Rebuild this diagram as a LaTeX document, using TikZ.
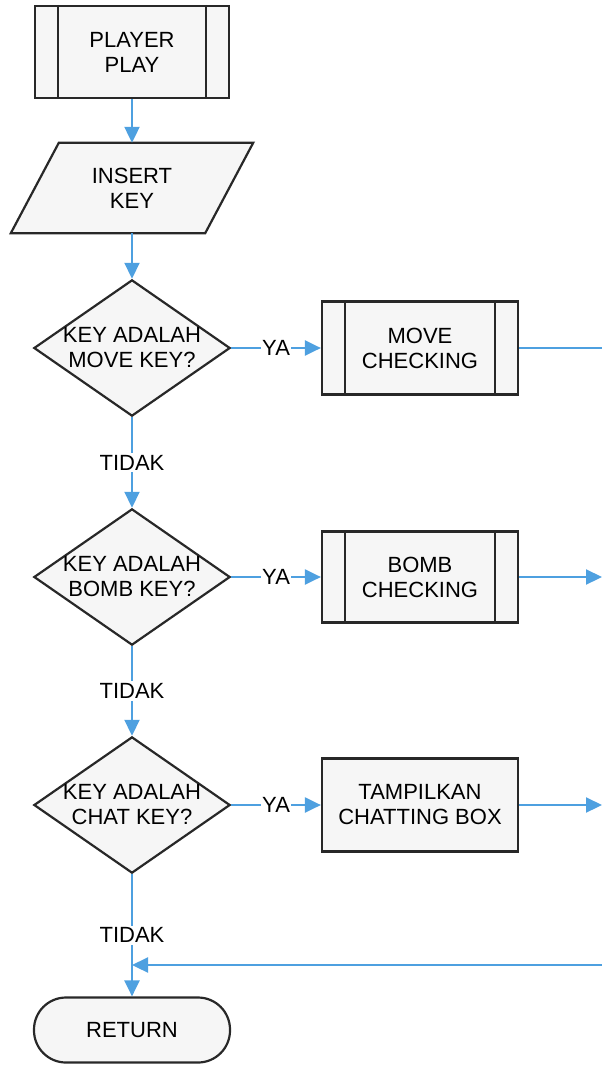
\documentclass[tikz,border=0pt]{standalone}
\usepackage{fontspec}
\setmainfont{Liberation Sans}
\usetikzlibrary{shapes.geometric,arrows.meta}

\definecolor{flowblue}{RGB}{78,160,224}
\definecolor{edgegray}{RGB}{40,40,40}
\definecolor{boxfill}{RGB}{246,246,246}

\tikzset{
  txt/.style={align=center, font=\fontsize{22}{25}\selectfont},
  base/.style={txt, draw=edgegray, line width=2.2pt, fill=boxfill, inner sep=0pt},
  procbox/.style={base, rectangle, minimum width=196pt, minimum height=93pt},
  decision/.style={base, diamond, aspect=1.44, minimum width=195pt, minimum height=135pt},
  terminal/.style={base, rectangle, rounded corners=32pt, minimum width=196pt, minimum height=65pt},
  flow/.style={draw=flowblue, line width=2.2pt, -{Triangle[length=16pt,width=15pt]}},
  plainflow/.style={draw=flowblue, line width=2.2pt},
  lbl/.style={txt, fill=white, inner sep=2pt}
}

\begin{document}
\begin{tikzpicture}[x=1pt,y=-1pt]
  \useasboundingbox (0,0) rectangle (602,1066);

  % predefined process: PLAYER PLAY
  \node[procbox, minimum width=194pt, minimum height=92pt] (pp) at (132,52) {PLAYER\\PLAY};
  \draw[edgegray, line width=2.2pt] ([xshift=24pt]pp.north west) -- ([xshift=24pt]pp.south west);
  \draw[edgegray, line width=2.2pt] ([xshift=-24pt]pp.north east) -- ([xshift=-24pt]pp.south east);

  % input parallelogram: INSERT KEY
  \node[txt, minimum width=194pt, minimum height=90pt, inner sep=0pt] (ik) at (132,188) {};
  \draw[edgegray, line width=2.2pt, fill=boxfill, line join=miter]
    ([xshift=24pt]ik.north west) -- ([xshift=24pt]ik.north east)
    -- ([xshift=-24pt]ik.south east) -- ([xshift=-24pt]ik.south west) -- cycle;
  \node[txt] (iktext) at (ik.center) {INSERT\\KEY};

  % decisions
  \node[decision] (d1) at (132,348) {KEY ADALAH\\MOVE KEY?};
  \node[decision] (d2) at (132,577) {KEY ADALAH\\BOMB KEY?};
  \node[decision] (d3) at (132,805) {KEY ADALAH\\CHAT KEY?};

  % process boxes
  \node[procbox] (mc) at (420,348) {MOVE\\CHECKING};
  \draw[edgegray, line width=2.2pt] ([xshift=24pt]mc.north west) -- ([xshift=24pt]mc.south west);
  \draw[edgegray, line width=2.2pt] ([xshift=-24pt]mc.north east) -- ([xshift=-24pt]mc.south east);

  \node[procbox, minimum height=91pt] (bc) at (420,577) {BOMB\\CHECKING};
  \draw[edgegray, line width=2.2pt] ([xshift=24pt]bc.north west) -- ([xshift=24pt]bc.south west);
  \draw[edgegray, line width=2.2pt] ([xshift=-24pt]bc.north east) -- ([xshift=-24pt]bc.south east);

  \node[procbox] (tc) at (420,805) {TAMPILKAN\\CHATTING BOX};

  % terminal
  \node[terminal] (ret) at (132,1030) {RETURN};

  % off-page ends and junction
  \coordinate (e1) at (602,348);
  \coordinate (e2) at (602,577);
  \coordinate (e3) at (602,805);
  \coordinate (e4) at (602,965);
  \coordinate (j) at (132,965);

  % main column
  \draw[flow] (pp.south) -- (ik.north);
  \draw[flow] (ik.south) -- (d1.north);
  \draw[flow] (d1.south) -- node[lbl] {TIDAK} (d2.north);
  \draw[flow] (d2.south) -- node[lbl] {TIDAK} (d3.north);
  \draw[flow] (d3.south) -- node[lbl] {TIDAK} (ret.north);

  % yes branches
  \draw[flow] (d1.east) -- node[lbl, inner sep=1pt] {YA} (mc.west);
  \draw[flow] (d2.east) -- node[lbl, inner sep=1pt] {YA} (bc.west);
  \draw[flow] (d3.east) -- node[lbl, inner sep=1pt] {YA} (tc.west);

  % outgoing lines
  \draw[plainflow] (mc.east) -- (e1);
  \draw[flow] (bc.east) -- (e2);
  \draw[flow] (tc.east) -- (e3);
  \draw[flow] (e4) -- (j);
\end{tikzpicture}
\end{document}
